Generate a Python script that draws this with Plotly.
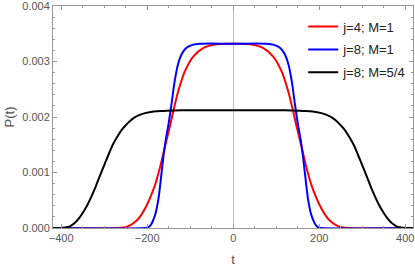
import plotly.graph_objects as go

# Data
t_red = [-420, -270, -255, -245, -235, -225, -217, -205, -194, -182, -170, -159, -147, -140, -128, -112, -93, -70, -40, 0,
         40, 70, 93, 112, 128, 140, 147, 159, 170, 182, 194, 205, 217, 225, 235, 245, 255, 270, 420]
p_red = [0, 0, 0.00001, 0.00003, 0.00007, 0.00013, 0.0002, 0.00035, 0.00053, 0.00077, 0.0011, 0.00146, 0.00184, 0.00208, 0.00246, 0.00283, 0.00309, 0.00324, 0.00331, 0.00332,
         0.00331, 0.00324, 0.00309, 0.00283, 0.00246, 0.00208, 0.00184, 0.00146, 0.0011, 0.00077, 0.00053, 0.00035, 0.0002, 0.00013, 0.00007, 0.00003, 0.00001, 0, 0]

t_blue = [-420, -205, -198, -192, -186, -180, -174, -168, -162, -156, -150, -143, -136, -128, -120, -110, -95, -75, 0,
          75, 95, 110, 120, 128, 136, 143, 150, 156, 162, 168, 174, 180, 186, 192, 198, 205, 420]
p_blue = [0, 0, 0.00001, 0.00005, 0.00014, 0.00028, 0.00052, 0.0009, 0.0013, 0.00163, 0.00189, 0.00226, 0.00265, 0.00296, 0.00313, 0.00324, 0.0033, 0.00332, 0.00332,
          0.00332, 0.0033, 0.00324, 0.00313, 0.00296, 0.00265, 0.00226, 0.00189, 0.00163, 0.0013, 0.0009, 0.00052, 0.00028, 0.00014, 0.00005, 0.00001, 0, 0]

t_black = [-420, -400, -390, -380, -370, -360, -350, -340, -330, -320, -310, -300, -290, -280, -270, -260, -250, -240, -230, -220, -205, -185, -160, -120, 0,
           120, 160, 185, 205, 220, 230, 240, 250, 260, 270, 280, 290, 300, 310, 320, 330, 340, 350, 360, 370, 380, 390, 400, 420]
p_black = [0, 0, 0.00001, 0.00003, 0.00008, 0.00016, 0.00027, 0.0004, 0.00056, 0.00074, 0.00094, 0.00113, 0.00132, 0.0015, 0.00164, 0.00176, 0.00185, 0.00193, 0.00199, 0.00203, 0.00207, 0.0021, 0.00211, 0.00212, 0.00212,
           0.00212, 0.00211, 0.0021, 0.00207, 0.00203, 0.00199, 0.00193, 0.00185, 0.00176, 0.00164, 0.0015, 0.00132, 0.00113, 0.00094, 0.00074, 0.00056, 0.0004, 0.00027, 0.00016, 0.00008, 0.00003, 0.00001, 0, 0]

names = ["j=4; M=1", "j=8; M=1", "j=8; M=5/4"]
colors = ["#FF0000", "#0000FF", "#000000"]
y_ticks = [0, 0.001, 0.002, 0.003, 0.004]
x_ticks = [-400, -200, 0, 200, 400]
x_ticktext = ["−400", "−200", "0", "200", "400"]

fig = go.Figure()
for i, (tx, py) in enumerate([(t_red, p_red), (t_blue, p_blue), (t_black, p_black)]):
    fig.add_trace(go.Scatter(x=tx, y=py, mode="lines", name=names[i], legendgroup=str(i),
                             line=dict(color=colors[i], width=2, shape="spline", smoothing=1)))

font_family = "Liberation Sans, Arial"
axis_common = dict(showline=True, linecolor="#999999", linewidth=1, mirror="allticks",
                   ticks="inside", tickcolor="#999999", ticklen=4, showgrid=False, automargin=False,
                   ticklabeloverflow="allow",
                   tickfont=dict(family=font_family, size=11, color="#555555"))

fig.update_xaxes(range=[-419, 418], tickvals=x_ticks, ticktext=x_ticktext,
                 zeroline=True, zerolinecolor="#bbbbbb", zerolinewidth=1,
                 minor=dict(dtick=50, tick0=0, ticks="inside", ticklen=2, tickcolor="#999999"),
                 title=dict(text="t", font=dict(family=font_family, size=13, color="#555555"), standoff=11),
                 **axis_common)
fig.update_yaxes(range=[0, 0.0040005], tickvals=y_ticks, tickformat=".3f", zeroline=False,
                 minor=dict(dtick=0.0002, tick0=0, ticks="inside", ticklen=2, tickcolor="#999999"),
                 title=dict(text="P(t)", font=dict(family=font_family, size=13, color="#555555"), standoff=4),
                 **axis_common)

fig.update_layout(width=415, height=267, margin=dict(l=53, r=2, t=6, b=39),
                  plot_bgcolor="white", paper_bgcolor="white",
                  legend=dict(x=0.995, xanchor="right", y=0.975, yanchor="top", bgcolor="rgba(0,0,0,0)",
                              font=dict(family=font_family, size=13, color="#222222"),
                              itemwidth=30, tracegroupgap=3))

fig.write_html("out.html", config={"displayModeBar": False},
               post_script="document.body.style.margin='0';")
